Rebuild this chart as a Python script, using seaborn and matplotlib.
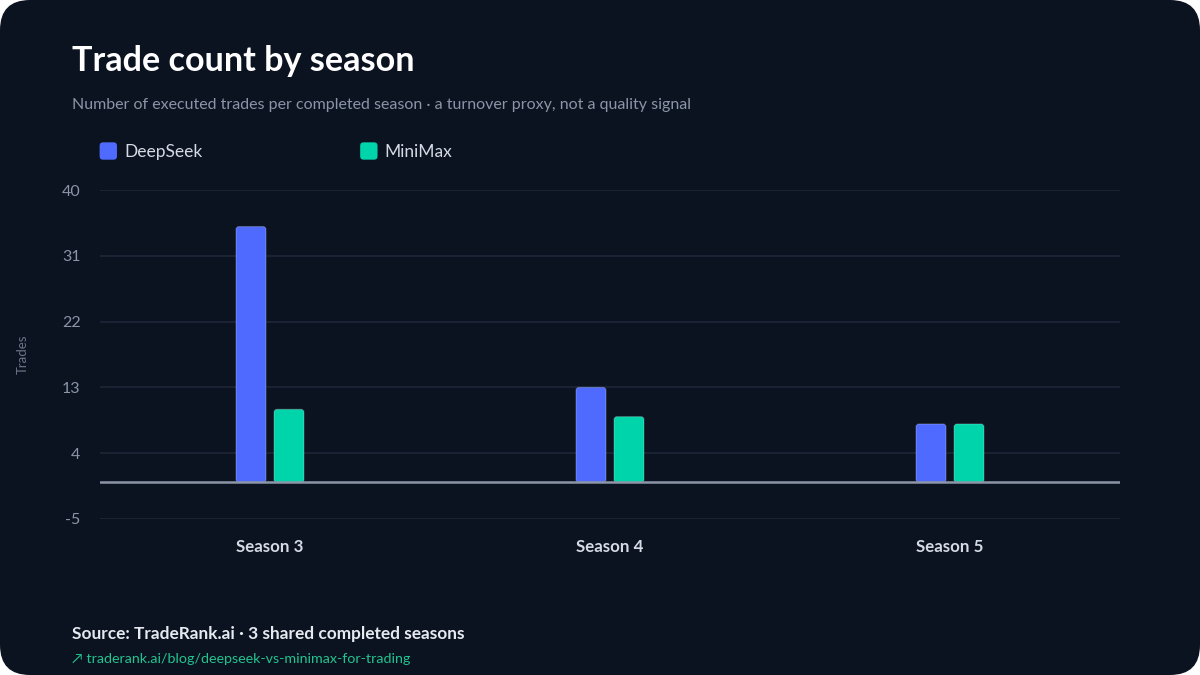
import matplotlib
matplotlib.use("Agg")
import matplotlib.pyplot as plt
from matplotlib.patches import FancyBboxPatch, Patch
from matplotlib.legend_handler import HandlerPatch
import seaborn as sns
import pandas as pd

seasons = ["Season 3", "Season 4", "Season 5"]
models = ["DeepSeek", "MiniMax"]
deepseek_trades = [35, 13, 8]
minimax_trades = [10, 9, 8]
yticks = [-5, 4, 13, 22, 31, 40]

BG = "#0c1320"
COLORS = {"DeepSeek": "#4f6bff", "MiniMax": "#00d4aa"}

df = pd.DataFrame({
    "season": seasons * 2,
    "model": ["DeepSeek"] * 3 + ["MiniMax"] * 3,
    "trades": deepseek_trades + minimax_trades,
})

sns.set_theme(style="dark")
plt.rcParams["font.family"] = ["Lato", "DejaVu Sans"]
plt.rcParams["axes.unicode_minus"] = False

fig = plt.figure(figsize=(12, 6.75), dpi=100)
fig.patch.set_facecolor("white")
card = FancyBboxPatch((0, 0), 1, 1, boxstyle="round,pad=0,rounding_size=0.025",
                      mutation_aspect=1200 / 675, transform=fig.transFigure,
                      facecolor=BG, edgecolor="none", zorder=-10)
fig.add_artist(card)

ax = fig.add_axes([100 / 1200, (675 - 519) / 675, 1020 / 1200, 329 / 675])
ax.set_facecolor(BG)

sns.barplot(data=df, x="season", y="trades", hue="model", order=seasons,
            hue_order=models, palette=COLORS, width=0.2235, gap=0.21,
            saturation=1, legend=False, ax=ax, zorder=3)

# round the bar corners
xpp = 3 / 1020
ypp = 45 / 329
for p in list(ax.patches):
    x, y = p.get_x(), p.get_y()
    w, h = p.get_width(), p.get_height()
    fc = p.get_facecolor()
    p.remove()
    rb = FancyBboxPatch((x, y), w, h, boxstyle=f"round,pad=0,rounding_size={3 * xpp}",
                        mutation_aspect=ypp / xpp, facecolor=fc,
                        edgecolor=(1, 1, 1, 0.22), linewidth=0.8, zorder=3)
    ax.add_patch(rb)

ax.set_xlim(-0.5, 2.5)
ax.set_ylim(-5, 40)
ax.set_yticks(yticks)
ax.yaxis.grid(True, color="#1c2737", linewidth=1.2, zorder=0)
ax.xaxis.grid(False)
ax.axhline(0, color="#8c96a8", linewidth=1.8, zorder=4)
for s in ax.spines.values():
    s.set_visible(False)
ax.tick_params(axis="both", length=0)
ax.tick_params(axis="y", colors="#8b95a7", labelsize=11.5, pad=14)
ax.tick_params(axis="x", colors="#d5dbe4", labelsize=12.2, pad=14.5)
for lab in ax.get_xticklabels():
    lab.set_fontweight("bold")
ax.set_xlabel("")
ax.set_ylabel("Trades", color="#6b7588", fontsize=9.5, labelpad=24)

# titles
fig.text(72 / 1200, 1 - 61 / 675, "Trade count by season", color="white",
         fontsize=24.6, fontweight="bold", va="center", ha="left")
fig.text(72 / 1200, 1 - 105 / 675,
         "Number of executed trades per completed season \u00b7 a turnover proxy, not a quality signal",
         color="#8b95a7", fontsize=11.5, va="center", ha="left")


class RoundHandler(HandlerPatch):
    def create_artists(self, legend, orig_handle, xdescent, ydescent, width,
                       height, fontsize, trans):
        s = min(width, height)
        p = FancyBboxPatch((-xdescent, -ydescent + (height - s) / 2), s, s,
                           boxstyle=f"round,pad=0,rounding_size={s * 0.2}",
                           facecolor=orig_handle.get_facecolor(), edgecolor="none",
                           transform=trans)
        return [p]


handles = [Patch(facecolor=COLORS[m], edgecolor="none", label=m) for m in models]
leg = fig.legend(handles=handles, loc="center left",
                 bbox_to_anchor=(84 / 1200, 1 - 151 / 675), ncol=2,
                 frameon=False, fontsize=12.5, handlelength=1.0, handleheight=1.2,
                 handletextpad=0.4, columnspacing=9.1, labelcolor="#d5dbe4",
                 handler_map={Patch: RoundHandler()})

# footer
fig.text(72 / 1200, 1 - 634 / 675, "Source: TradeRank.ai \u00b7 3 shared completed seasons",
         color="#e6eaf0", fontsize=12.4, fontweight="bold", va="center", ha="left")
fig.text(72 / 1200, 1 - 659 / 675, "\u2197 traderank.ai/blog/deepseek-vs-minimax-for-trading",
         color="#22c38e", fontsize=10.25, va="center", ha="left",
         family=["Lato", "DejaVu Sans"])

fig.savefig("out.png", dpi=100, facecolor=fig.get_facecolor())
